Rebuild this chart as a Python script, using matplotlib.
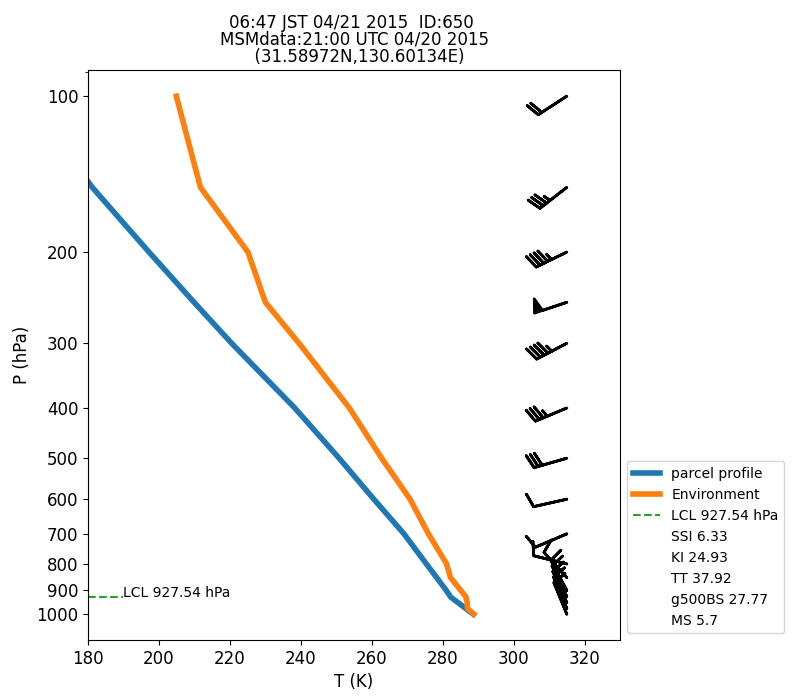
import matplotlib
matplotlib.use("Agg")
import matplotlib.pyplot as plt
import numpy as np
from matplotlib.ticker import ScalarFormatter, NullFormatter, FixedLocator

# Environment profile
env_p = [1000, 975, 950, 925, 900, 850, 800, 700, 600, 500, 400, 300, 250, 200, 150, 100]
env_T = [288.8, 287.0, 286.9, 286.5, 285.1, 282.2, 281.1, 276.0, 270.8, 262.8, 253.7, 239.5, 230.0, 225.1, 211.7, 204.9]

# Parcel profile
parcel_p = [1000, 927.54, 900, 850, 800, 700, 600, 500, 400, 300, 250, 200, 150, 100]
parcel_T = [288.6, 282.3, 281.0, 278.3, 275.4, 269.1, 260.6, 250.8, 238.3, 220.5, 209.9, 197.2, 181.2, 163.0]

lcl_p = 927.54

# Wind barbs (m/s)
wind_p = [1000, 975, 950, 925, 900, 850, 800, 700, 600, 500, 400, 300, 250, 200, 150, 100]
wind_u = [3.4, 3.5, 3.7, 3.9, 4.2, 6.7, 9.7, 9.2, 9.8, 28.8, 32.3, 39.9, 47.4, 40.4, 27.6, 16.8]
wind_v = [-8.3, -8.3, -8.2, -8.1, -7.9, -7.4, -2.4, 3.9, 2.2, 8.3, 13.5, 20.9, 15.9, 19.7, 21.5, 10.9]

legend_extra = ["SSI 6.33", "KI 24.93", "TT 37.92", "g500BS 27.77", "MS 5.7"]

title = "06:47 JST 04/21 2015  ID:650 \nMSMdata:21:00 UTC 04/20 2015\n  (31.58972N,130.60134E)"

fig = plt.figure(figsize=(8, 7), dpi=100)
ax = fig.add_axes([0.11, 0.0857, 0.665, 0.814])

ax.plot(parcel_T, parcel_p, color="tab:blue", lw=4, label="parcel profile")
ax.plot(env_T, env_p, color="tab:orange", lw=4, label="Environment")
ax.plot([180, 190], [lcl_p, lcl_p], color="tab:green", ls="--", lw=1.5,
        label="LCL %.2f hPa" % lcl_p)
ax.text(190, lcl_p, "LCL %.2f hPa" % lcl_p, fontsize=10)
for s in legend_extra:
    ax.plot([], [], color="none", label=s)

ax.barbs([315] * len(wind_p), wind_p, wind_u, wind_v, color="k", lw=2, length=7)

ax.set_yscale("log")
ax.set_ylim(1122, 89.1)
ax.set_xlim(180, 330)
ax.yaxis.set_major_locator(FixedLocator([100, 200, 300, 400, 500, 600, 700, 800, 900, 1000]))
ax.yaxis.set_major_formatter(ScalarFormatter())
ax.yaxis.set_minor_formatter(NullFormatter())
ax.tick_params(labelsize=12)
ax.set_xlabel("T (K)", fontsize=12)
ax.set_ylabel("P (hPa)", fontsize=12)
ax.set_title(title, fontsize=12, linespacing=0.92)
ax.legend(bbox_to_anchor=(1, 0), loc="lower left", fontsize=10)

fig.savefig("out.png", dpi=100)
